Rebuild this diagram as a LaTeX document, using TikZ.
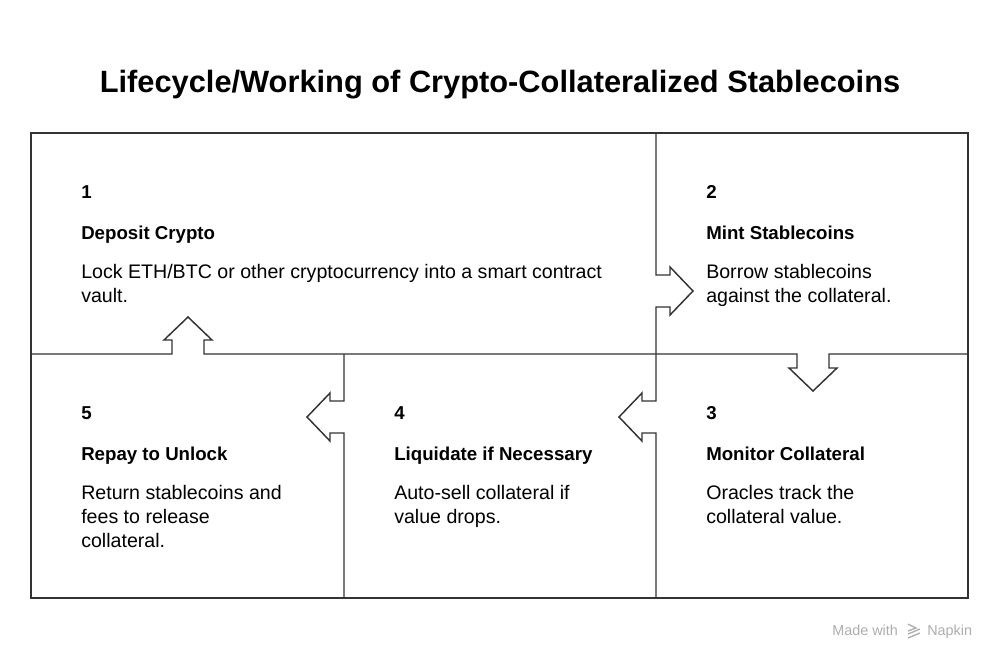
\documentclass[tikz,border=0pt]{standalone}
\usepackage{fontspec}
\setmainfont{Liberation Sans}
\begin{document}
\begin{tikzpicture}[x=0.75pt,y=-0.75pt,
  frame/.style={draw=black!80, line width=1.1pt, line join=miter},
  titletext/.style={anchor=base, inner sep=0pt, font=\fontsize{23.1pt}{28pt}\selectfont\bfseries},
  numtext/.style={anchor=base west, inner sep=0pt, font=\fontsize{14pt}{16pt}\selectfont\bfseries},
  headtext/.style={anchor=base west, inner sep=0pt, font=\fontsize{14pt}{16pt}\selectfont\bfseries},
  bodytext/.style={anchor=base west, inner sep=0pt, font=\fontsize{14.7pt}{17pt}\selectfont},
  marktext/.style={anchor=base west, inner sep=0pt, text=black!32, font=\fontsize{10.8pt}{13pt}\selectfont}
]
\useasboundingbox (0,0) rectangle (1000,662);

% title
\node[titletext] (title) at (500,92) {Lifecycle/Working of Crypto-Collateralized Stablecoins};

% outer frame
\draw[frame] (31,133) rectangle (968,598);

% vertical divider x=656 with right arrow (step 1 -> 2) and left arrow (3 -> 4)
\draw[frame] (656,133) -- (656,275) -- (670,275) -- (670,267) -- (693,291) -- (670,315) -- (670,307)
  -- (656,307) -- (656,401) -- (642,401) -- (642,393) -- (619,417) -- (642,441) -- (642,433)
  -- (656,433) -- (656,598);

% horizontal divider y=354 with up arrow (5 -> 1) and down arrow (2 -> 3)
\draw[frame] (31,354) -- (172,354) -- (172,340) -- (164,340) -- (188,317) -- (212,340) -- (204,340)
  -- (204,354) -- (797,354) -- (797,368) -- (789,368) -- (813,391) -- (837,368) -- (829,368)
  -- (829,354) -- (968,354);

% vertical divider x=344 with left arrow (4 -> 5)
\draw[frame] (344,354) -- (344,401) -- (330,401) -- (330,393) -- (307,417) -- (330,441) -- (330,433)
  -- (344,433) -- (344,598);

% panel 1
\node[numtext]  (n1) at (81,198) {1};
\node[headtext] (h1) at (81,239) {Deposit Crypto};
\node[bodytext] (b1a) at (81,278) {Lock ETH/BTC or other cryptocurrency into a smart contract};
\node[bodytext] (b1b) at (81,302) {vault.};

% panel 2
\node[numtext]  (n2) at (706,198) {2};
\node[headtext] (h2) at (706,239) {Mint Stablecoins};
\node[bodytext] (b2a) at (706,278) {Borrow stablecoins};
\node[bodytext] (b2b) at (706,302) {against the collateral.};

% panel 3
\node[numtext]  (n3) at (706,419) {3};
\node[headtext] (h3) at (706,460) {Monitor Collateral};
\node[bodytext] (b3a) at (706,499) {Oracles track the};
\node[bodytext] (b3b) at (706,523) {collateral value.};

% panel 4
\node[numtext]  (n4) at (394,419) {4};
\node[headtext] (h4) at (394,460) {Liquidate if Necessary};
\node[bodytext] (b4a) at (394,499) {Auto-sell collateral if};
\node[bodytext] (b4b) at (394,523) {value drops.};

% panel 5
\node[numtext]  (n5) at (81,419) {5};
\node[headtext] (h5) at (81,460) {Repay to Unlock};
\node[bodytext] (b5a) at (81,499) {Return stablecoins and};
\node[bodytext] (b5b) at (81,523) {fees to release};
\node[bodytext] (b5c) at (81,547) {collateral.};

% watermark
\node[marktext] (m1) at (832,635) {Made with};
\draw[black!32, line width=1pt] (908,624) -- (916,628) -- (908,631);
\draw[black!32, line width=1pt] (908,634) -- (920,629);
\draw[black!32, line width=1pt] (908,638) -- (920,633);
\node[marktext] (m2) at (927,635) {Napkin};
\end{tikzpicture}
\end{document}
